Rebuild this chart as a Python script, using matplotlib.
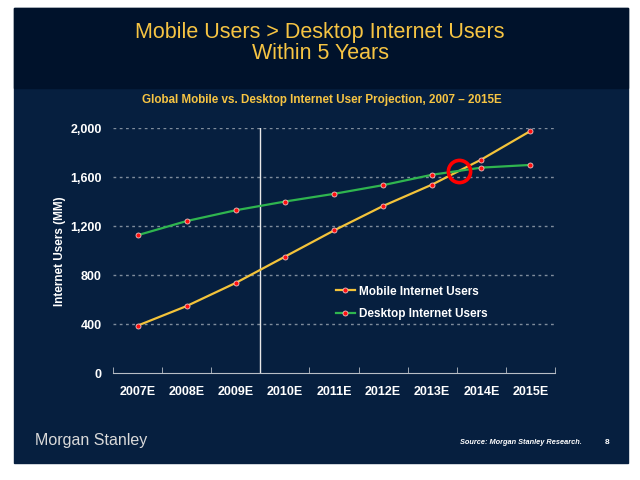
import numpy as np
import matplotlib.pyplot as plt
from matplotlib.patches import Rectangle

# data (users, MM)
years = ['2007E', '2008E', '2009E', '2010E', '2011E', '2012E', '2013E', '2014E', '2015E']
mobile = [389, 549, 738, 952, 1166, 1366, 1541, 1745, 1978]
desktop = [1127, 1243, 1331, 1402, 1465, 1536, 1621, 1679, 1701]
yticks = [0, 400, 800, 1200, 1600, 2000]

navy = '#061f3f'
band = '#00122b'
gold = '#f6c443'

fig = plt.figure(figsize=(6.4, 4.8), dpi=100, facecolor='white')

# slide background
fig.patches.append(Rectangle((14/640, 1-463/480), 614/640, 455/480,
                             transform=fig.transFigure, color=navy, zorder=-2))
fig.patches.append(Rectangle((14/640, 1-88/480), 614/640, 80/480,
                             transform=fig.transFigure, color=band, zorder=-1))

narrow = ['Liberation Sans Narrow', 'Liberation Sans', 'DejaVu Sans']
fig.text(0.5, 1-43/480, 'Mobile Users > Desktop Internet Users\nWithin 5 Years',
         ha='center', va='center', color=gold, fontsize=15.5, family=narrow,
         linespacing=1.0)
fig.text(322/640, 1-100/480,
         'Global Mobile vs. Desktop Internet User Projection, 2007 \u2013 2015E',
         ha='center', va='center', color=gold, fontsize=8.4, fontweight='bold',
         family='Liberation Sans')

ax = fig.add_axes([113/640, 1-373.3/480, 442/640, 245/480])
ax.set_zorder(2)
ax.set_facecolor('none')
x = np.arange(len(years))

ax.plot(x, mobile, color='#f3c33a', lw=1.6, marker='o', ms=3.6,
        mfc='#ff1010', mec='#f0c0c0', mew=0.6, label='Mobile Internet Users', zorder=3)
ax.plot(x, desktop, color='#2fb54f', lw=1.6, marker='o', ms=3.6,
        mfc='#ff1010', mec='#f0c0c0', mew=0.6, label='Desktop Internet Users', zorder=3)

# crossover point between 2013E and 2014E
d0 = mobile[6] - desktop[6]
d1 = mobile[7] - desktop[7]
t = -d0 / (d1 - d0)
cx = 6 + t
cy = mobile[6] + t * (mobile[7] - mobile[6])
ax.plot([cx], [cy], marker='o', ms=16, mfc='none', mec='#ff0000', mew=2.6, zorder=4)

ax.axvline(2.5, color='#e8e8e8', lw=1, zorder=2)

ax.set_xlim(-0.5, len(years) - 0.5)
ax.set_ylim(0, 2000)
ax.set_yticks(yticks)
ax.set_yticklabels([f'{v:,}' for v in yticks])
ax.set_xticks(x)
ax.set_xticklabels(years)
ax.set_xticks(np.arange(-0.5, len(years)), minor=True)

for v in yticks[1:]:
    ax.axhline(v, color='#7f8c9c', lw=1, ls=(0, (2, 2.5)), zorder=1)

for s in ['top', 'right', 'left']:
    ax.spines[s].set_visible(False)
ax.spines['bottom'].set_color('#b8bec6')
ax.tick_params(axis='x', which='major', length=0, pad=9)
ax.tick_params(axis='x', which='minor', direction='in', length=4, color='#b8bec6')
ax.tick_params(axis='y', length=0, pad=8)
for lab in ax.get_xticklabels() + ax.get_yticklabels():
    lab.set_color('white')
    lab.set_fontweight('bold')
    lab.set_fontsize(9)
    lab.set_family('Liberation Sans')

ax.set_ylabel('Internet Users (MM)', color='white', fontsize=8.5, fontweight='bold',
              family='Liberation Sans', labelpad=3)

leg = ax.legend(loc='upper left', bbox_to_anchor=(325/640, 1-275/480),
                bbox_transform=fig.transFigure, frameon=False, handlelength=1.6,
                handletextpad=0.4, labelspacing=0.85,
                prop={'family': 'Liberation Sans', 'weight': 'bold', 'size': 8.5})
for txt in leg.get_texts():
    txt.set_color('white')

fig.text(35/640, 1-440/480, 'Morgan Stanley', color='#d9d9d9', fontsize=11.5,
         family=narrow, va='center', ha='left')
fig.text(582/640, 1-443/480, 'Source: Morgan Stanley Research.', color='white',
         fontsize=5.3, fontstyle='italic', fontweight='bold', family='Liberation Sans',
         va='center', ha='right')
fig.text(607/640, 1-443/480, '8', color='white', fontsize=6, fontweight='bold',
         family='Liberation Sans', va='center', ha='center')

fig.savefig('out.png', dpi=100, facecolor='white')
